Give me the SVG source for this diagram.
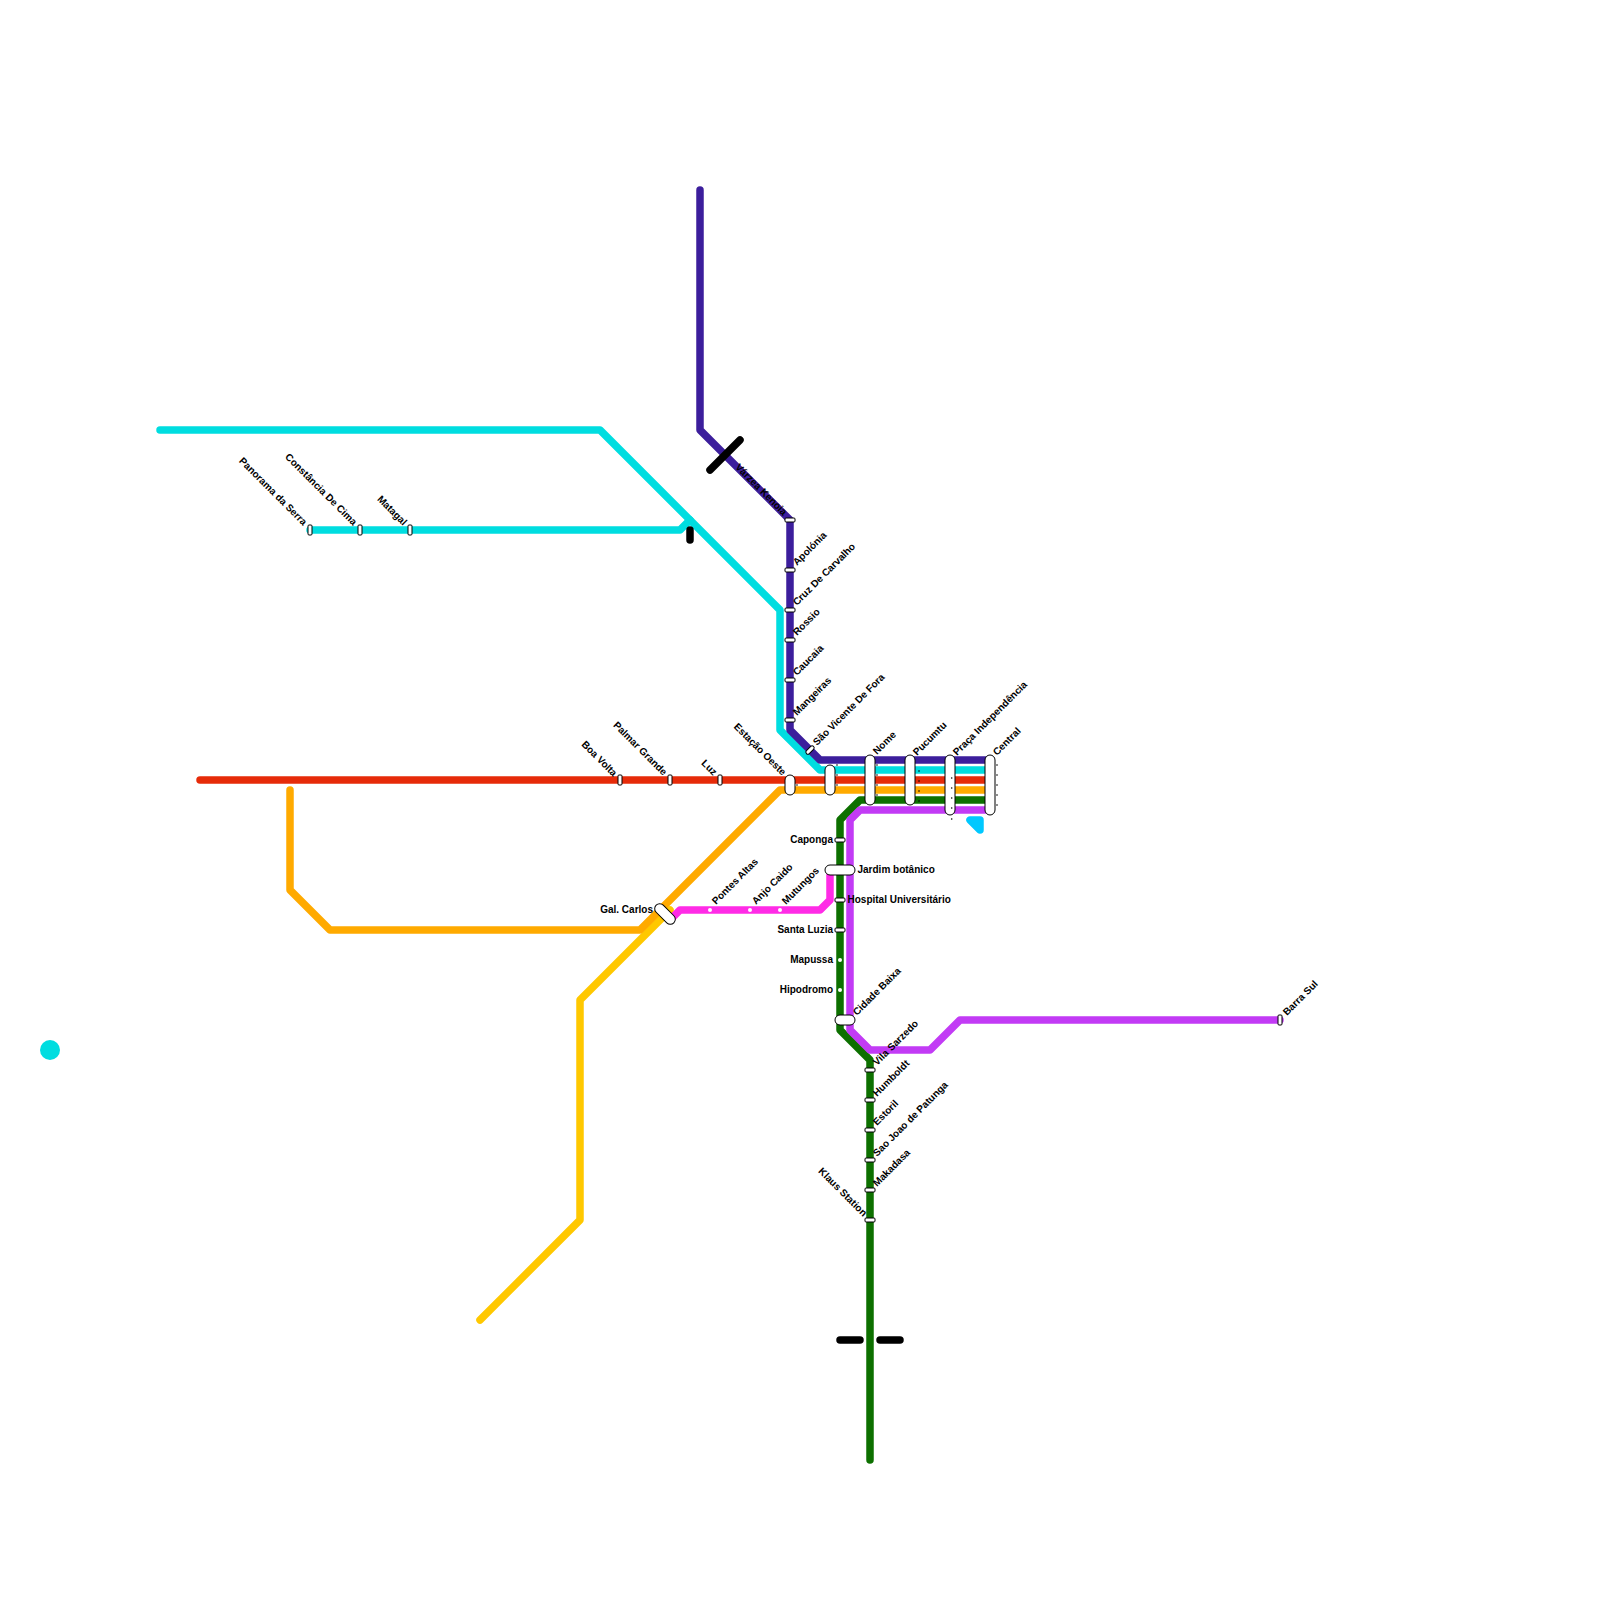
<svg xmlns="http://www.w3.org/2000/svg" width="1600" height="1600" viewBox="0 0 1600 1600">
<style>
.l{fill:none;stroke-width:7.5;stroke-linecap:round;stroke-linejoin:round}
.b{fill:none;stroke:#000;stroke-width:7.5;stroke-linecap:round}
.s{fill:#fff;stroke:#000;stroke-width:1}
.d{fill:#fff}
.k{fill:#000}
text{font-family:"Liberation Sans",Arial,sans-serif;font-size:10px;font-weight:700;fill:#000}
.e{text-anchor:end}
</style>
<rect width="1600" height="1600" fill="#fff"/>
<g id="connectors">
<path class="l" stroke="#ffc800" d="M480 1320L580 1220V1000L670 910"/>
<path class="l" stroke="#ffaa00" d="M290 790V890L330 930H640L780 790H990"/>
<path class="l" stroke="#00dde0" d="M160 430H600L780 610V730L820 770H990"/>
<path class="l" stroke="#00dde0" d="M310 530H680L690 520"/>
<path class="l" stroke="#e62b09" d="M200 780H990"/>
<path class="l" stroke="#3c1e9c" d="M700 190V430L790 520V730L820 760H990"/>
<path class="l" stroke="#0d7000" d="M990 800H860L840 820V1030L870 1060V1460"/>
<path class="l" stroke="#c23bf5" d="M990 810H860L850 820V1030L870 1050H930L960 1020H1280"/>
<path class="l" stroke="#ff2be6" d="M670 920L680 910H820L830 900V870"/>
<path class="b" d="M710 470L740 440"/>
<path class="b" d="M690 530V540"/>
<path class="b" d="M840 1340H860"/>
<path class="b" d="M880 1340H900"/>
</g>
<circle id="dot-cyan" cx="50" cy="1050" r="10" fill="#00dde0"/>
<path id="tri" d="M970 820H980V830Z" fill="#00c8ff" stroke="#00c8ff" stroke-width="7.5" stroke-linejoin="round"/>
<g id="st-panorama"><rect class="s" x="308" y="525" width="4" height="10" rx="1"/><text class="e" transform="translate(303 526) rotate(45)">Panorama da Serra</text></g>
<g id="st-constancia"><rect class="s" x="358" y="525" width="4" height="10" rx="1"/><text class="e" transform="translate(353 526) rotate(45)">Constância De Cima</text></g>
<g id="st-matagal"><rect class="s" x="408" y="525" width="4" height="10" rx="1"/><text class="e" transform="translate(403 526) rotate(45)">Matagal</text></g>
<g id="st-boavolta"><rect class="s" x="618" y="775" width="4" height="10" rx="1"/><text class="e" transform="translate(613 777) rotate(45)">Boa Volta</text></g>
<g id="st-palmar"><rect class="s" x="668" y="775" width="4" height="10" rx="1"/><text class="e" transform="translate(663 776) rotate(45)">Palmar Grande</text></g>
<g id="st-luz"><rect class="s" x="718" y="775" width="4" height="10" rx="1"/><text class="e" transform="translate(713 776) rotate(45)">Luz</text></g>
<g id="st-estacao"><rect class="s" x="785" y="775" width="10" height="20" rx="5"/><text class="e" transform="translate(782 776) rotate(45)">Estação Oeste</text><circle class="k" cx="797" cy="785" r=".8"/></g>
<g id="st-varzea"><rect class="s" x="785" y="518" width="10" height="4" rx="1"/><text class="e" transform="translate(783 516) rotate(45)">Várzea Kenoia</text></g>
<g id="st-apolonia"><rect class="s" x="785" y="568" width="10" height="4" rx="1"/><text transform="translate(797 566) rotate(-45)">Apolónia</text></g>
<g id="st-cruz"><rect class="s" x="785" y="608" width="10" height="4" rx="1"/><text transform="translate(797 606) rotate(-45)">Cruz De Carvalho</text></g>
<g id="st-rossio"><rect class="s" x="785" y="638" width="10" height="4" rx="1"/><text transform="translate(797 636) rotate(-45)">Rossio</text></g>
<g id="st-caucaia"><rect class="s" x="785" y="678" width="10" height="4" rx="1"/><text transform="translate(797 676) rotate(-45)">Caucaia</text></g>
<g id="st-mangeiras"><rect class="s" x="785" y="718" width="10" height="4" rx="1"/><text transform="translate(797 716) rotate(-45)">Mangeiras</text></g>
<g id="st-saovicente"><rect class="s" x="805" y="748" width="10" height="4" rx="2" transform="rotate(-45 810 750)"/><text transform="translate(817 746) rotate(-45)">São Vicente De Fora</text></g>
<g id="st-x830"><rect class="s" x="825" y="765" width="10" height="30" rx="5"/><circle class="k" cx="837" cy="765" r=".8"/><circle class="k" cx="837" cy="775" r=".8"/><circle class="k" cx="837" cy="785" r=".8"/></g>
<g id="st-nome"><rect class="s" x="865" y="755" width="10" height="50" rx="5"/><text transform="translate(877 755) rotate(-45)">Nome</text><circle class="k" cx="877" cy="765" r=".8"/><circle class="k" cx="877" cy="775" r=".8"/><circle class="k" cx="877" cy="785" r=".8"/><circle class="k" cx="877" cy="795" r=".8"/></g>
<g id="st-pucumtu"><rect class="s" x="905" y="755" width="10" height="50" rx="5"/><text transform="translate(917 756) rotate(-45)">Pucumtu</text><circle class="k" cx="919" cy="771" r=".8"/><circle class="k" cx="919" cy="781" r=".8"/><circle class="k" cx="919" cy="791" r=".8"/><circle class="k" cx="919" cy="801" r=".8"/></g>
<g id="st-praca"><rect class="s" x="945" y="755" width="10" height="60" rx="5"/><text transform="translate(957 756) rotate(-45)">Praça Independência</text><circle class="k" cx="951.700" cy="778" r=".8"/><circle class="k" cx="951.700" cy="788" r=".8"/><circle class="k" cx="951.700" cy="798" r=".8"/><circle class="k" cx="951.700" cy="808" r=".8"/><circle class="k" cx="951.700" cy="819" r=".8"/></g>
<g id="st-central"><rect class="s" x="985" y="755" width="10" height="60" rx="5"/><text transform="translate(997 756) rotate(-45)">Central</text><circle class="k" cx="997" cy="765" r=".8"/><circle class="k" cx="997" cy="775" r=".8"/><circle class="k" cx="997" cy="785" r=".8"/><circle class="k" cx="997" cy="795" r=".8"/><circle class="k" cx="997" cy="805" r=".8"/></g>
<g id="st-caponga"><rect class="s" x="835" y="838" width="10" height="4" rx="1"/><text class="e" x="833" y="843">Caponga</text></g>
<g id="st-jardim"><rect class="s" x="825" y="865" width="30" height="10" rx="5"/><text x="857.500" y="873">Jardim botânico</text></g>
<g id="st-hospital"><rect class="s" x="835" y="898" width="10" height="4" rx="1"/><text x="847.500" y="903">Hospital Universitário</text></g>
<g id="st-santaluzia"><rect class="s" x="835" y="928" width="10" height="4" rx="1"/><text class="e" x="833" y="933">Santa Luzia</text></g>
<g id="st-mapussa"><circle class="d" cx="840" cy="960" r="2"/><text class="e" x="833" y="963">Mapussa</text></g>
<g id="st-hipodromo"><circle class="d" cx="840" cy="990" r="2"/><text class="e" x="833" y="993">Hipodromo</text></g>
<g id="st-cidade"><rect class="s" x="835" y="1015" width="20" height="10" rx="5"/><text transform="translate(857 1016) rotate(-45)">Cidade Baixa</text></g>
<g id="st-vila"><rect class="s" x="865" y="1068" width="10" height="4" rx="1"/><text transform="translate(877 1066) rotate(-45)">Vila Sarzedo</text></g>
<g id="st-humboldt"><rect class="s" x="865" y="1098" width="10" height="4" rx="1"/><text transform="translate(877 1097) rotate(-45)">Humboldt</text></g>
<g id="st-estoril"><rect class="s" x="865" y="1128" width="10" height="4" rx="1"/><text transform="translate(877 1126) rotate(-45)">Estoril</text></g>
<g id="st-saojoao"><rect class="s" x="865" y="1158" width="10" height="4" rx="1"/><text transform="translate(877 1157) rotate(-45)">Sao Joao de Patunga</text></g>
<g id="st-makadasa"><rect class="s" x="865" y="1188" width="10" height="4" rx="1"/><text transform="translate(877 1187) rotate(-45)">Makadasa</text></g>
<g id="st-klaus"><rect class="s" x="865" y="1218" width="10" height="4" rx="1"/><text class="e" transform="translate(863 1217) rotate(45)">Klaus Station</text></g>
<g id="st-gal"><rect class="s" x="652.500" y="909" width="25" height="10" rx="5" transform="rotate(45 665 914)"/><text class="e" x="653" y="913">Gal. Carlos</text></g>
<g id="st-pontes"><circle class="d" cx="710" cy="910" r="2"/><text transform="translate(716 905) rotate(-45)">Pontes Altas</text></g>
<g id="st-anjo"><circle class="d" cx="750" cy="910" r="2"/><text transform="translate(756 905) rotate(-45)">Anjo Caido</text></g>
<g id="st-mutungos"><circle class="d" cx="780" cy="910" r="2"/><text transform="translate(786 905) rotate(-45)">Mutungos</text></g>
<g id="st-barra"><rect class="s" x="1278" y="1015" width="4" height="10" rx="1"/><text transform="translate(1287 1016) rotate(-45)">Barra Sul</text></g>
</svg>
